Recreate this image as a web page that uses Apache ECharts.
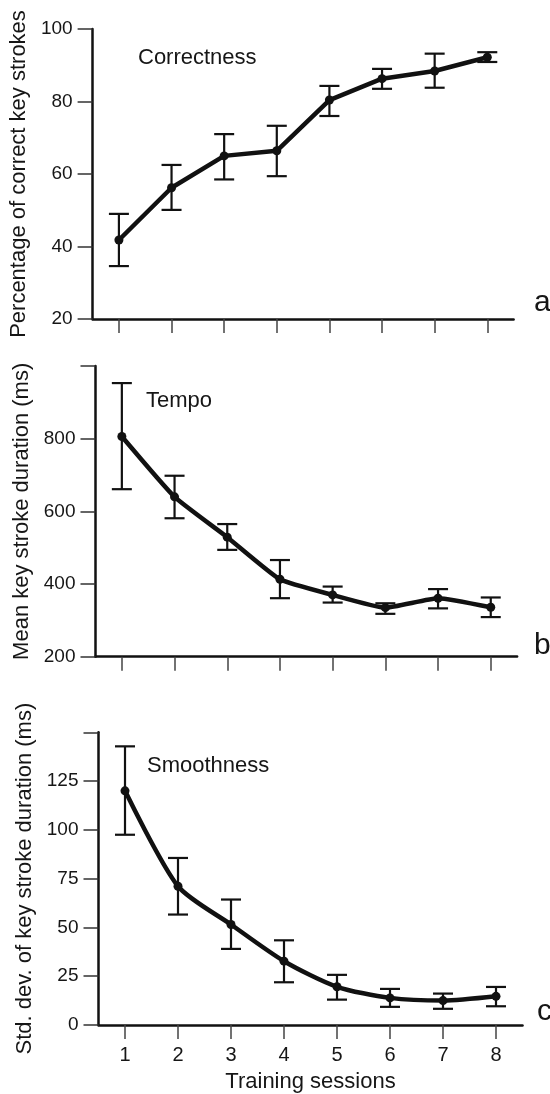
<!DOCTYPE html>
<html><head><meta charset="utf-8">
<script src="https://cdn.jsdelivr.net/npm/echarts@6/dist/echarts.min.js"></script>
<style>html,body{margin:0;padding:0;background:#fff}#c{width:550px;height:1094px}</style>
</head><body><div id="c"></div>
<script>
// ---- data ----
const sessions = ['1','2','3','4','5','6','7','8'];

const correctMean = [41.8, 56.2, 65.0, 66.4, 80.4, 86.3, 88.4, 92.2];
const correctLow  = [34.6, 50.1, 58.5, 59.4, 76.0, 83.5, 83.8, 90.9];
const correctHigh = [49.0, 62.5, 71.0, 73.3, 84.3, 89.0, 93.2, 93.6];

const tempoMean = [806, 640, 529, 413, 370, 335, 361, 336];
const tempoLow  = [661, 581, 494, 361, 349, 318, 333, 309];
const tempoHigh = [953, 698, 565, 466, 393, 347, 386, 363];

const smoothMean = [120.0, 71.1, 51.5, 32.7, 19.6, 13.9, 12.5, 14.7];
const smoothLow  = [97.5, 56.6, 39.0, 21.9, 13.0, 9.3, 8.3, 9.6];
const smoothHigh = [142.8, 85.6, 64.3, 43.4, 25.7, 18.5, 16.1, 19.5];

const yTicksA = [20, 40, 60, 80, 100];
const yTicksB = [200, 400, 600, 800];
const yTicksC = [0, 25, 50, 75, 100, 125];

const titles = ['Correctness', 'Tempo', 'Smoothness'];
const yNames = ['Percentage of correct key strokes', 'Mean key stroke duration (ms)', 'Std. dev. of key stroke duration (ms)'];
const panelLetters = ['a', 'b', 'c'];
const xName = 'Training sessions';

// ---- styling ----
const FONT = "'Liberation Sans', Arial, Helvetica, sans-serif";
const INK = '#111';
const TXT = '#161616';
const chart = echarts.init(document.getElementById('c'), null, {renderer: 'canvas'});

function errRender(params, api) {
  const i = api.value(0);
  const lo = api.coord([i, api.value(1)]);
  const hi = api.coord([i, api.value(2)]);
  const hw = 10;
  const st = {stroke: INK, lineWidth: 2.2};
  return {type: 'group', children: [
    {type: 'line', shape: {x1: lo[0], y1: lo[1], x2: hi[0], y2: hi[1]}, style: st},
    {type: 'line', shape: {x1: lo[0] - hw, y1: lo[1], x2: lo[0] + hw, y2: lo[1]}, style: st},
    {type: 'line', shape: {x1: hi[0] - hw, y1: hi[1], x2: hi[0] + hw, y2: hi[1]}, style: st}
  ]};
}

function errData(lo, hi) { return sessions.map((s, i) => [i, lo[i], hi[i]]); }

function yAxis(idx, ticks, max, name) {
  const step = ticks[1] - ticks[0];
  return {
    type: 'value', gridIndex: idx, min: ticks[0], max: max, interval: step,
    axisLine: {show: true, lineStyle: {color: INK, width: 2.5}},
    axisTick: {show: true, length: 15, lineStyle: {color: '#333', width: 1.5}},
    axisLabel: {fontSize: 19, color: TXT, fontFamily: FONT, margin: 20,
      formatter: v => (ticks.indexOf(v) >= 0 ? String(v) : '')},
    splitLine: {show: false},
    name: name, nameLocation: 'middle', nameGap: 50,
    nameTextStyle: {fontSize: 22, color: TXT, fontFamily: FONT}
  };
}

function xAxis(idx, showLabels) {
  return {
    type: 'category', gridIndex: idx, data: sessions, boundaryGap: true,
    axisLine: {show: true, lineStyle: {color: INK, width: 2.5}},
    axisTick: {show: true, alignWithLabel: true, interval: 0, length: 14, lineStyle: {color: '#444', width: 1.5}},
    axisLabel: {show: showLabels, interval: 0, fontSize: 20, color: TXT, fontFamily: FONT, margin: 20},
    splitLine: {show: false},
    name: showLabels ? xName : '', nameLocation: 'middle', nameGap: 46,
    nameTextStyle: {fontSize: 22, color: TXT, fontFamily: FONT}
  };
}

function lineSeries(idx, data, smooth) {
  return {
    type: 'line', xAxisIndex: idx, yAxisIndex: idx, data: data, smooth: smooth,
    symbol: 'circle', symbolSize: 9, z: 3,
    lineStyle: {color: INK, width: 4.5}, itemStyle: {color: INK},
    animation: false
  };
}

function errSeries(idx, lo, hi) {
  return {
    type: 'custom', xAxisIndex: idx, yAxisIndex: idx, renderItem: errRender,
    data: errData(lo, hi), encode: {x: 0, y: [1, 2]}, z: 2, animation: false
  };
}

function textEl(x, y, t, size) {
  return {type: 'text', x: x, y: y, style: {text: t, fontSize: size, fontFamily: FONT, fill: TXT,
    textAlign: 'left', textVerticalAlign: 'middle'}};
}

const option = {
  animation: false,
  backgroundColor: '#fff',
  grid: [
    {left: 92.6, top: 29, width: 421, height: 290},
    {left: 95.5, top: 366, width: 421.6, height: 290.7},
    {left: 98.5, top: 732.3, width: 424, height: 293.4}
  ],
  xAxis: [xAxis(0, false), xAxis(1, false), xAxis(2, true)],
  yAxis: [
    yAxis(0, yTicksA, 100, yNames[0]),
    yAxis(1, yTicksB, 1000, yNames[1]),
    yAxis(2, yTicksC, 150, yNames[2])
  ],
  series: [
    errSeries(0, correctLow, correctHigh), lineSeries(0, correctMean, false),
    errSeries(1, tempoLow, tempoHigh), lineSeries(1, tempoMean, 0.15),
    errSeries(2, smoothLow, smoothHigh), lineSeries(2, smoothMean, 0.25)
  ],
  graphic: [
    textEl(138, 57.5, titles[0], 22),
    textEl(146, 400.5, titles[1], 22),
    textEl(147, 765.5, titles[2], 22),
    textEl(534, 303, panelLetters[0], 30),
    textEl(534, 646, panelLetters[1], 30),
    textEl(537, 1012, panelLetters[2], 30)
  ]
};
chart.setOption(option);
</script></body></html>
